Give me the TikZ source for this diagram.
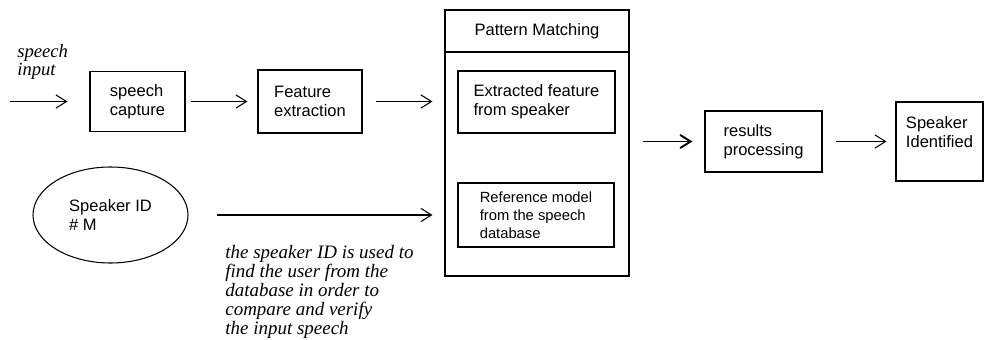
\documentclass[tikz,border=0pt]{standalone}
\usepackage{fontspec}
\setmainfont{Liberation Serif}
\setsansfont{Liberation Sans}
\usetikzlibrary{arrows.meta,shapes.geometric,calc,positioning}

\begin{document}
\begin{tikzpicture}[
    >={Straight Barb[length=6pt,width=7.5pt]},
    block/.style={draw, line width=0.6pt, align=left, inner sep=0pt, font=\sffamily\fontsize{9.4}{11}\selectfont},
    small/.style={font=\sffamily\fontsize{8.4}{10.2}\selectfont},
    remark/.style={align=left, inner sep=0pt, font=\itshape\fontsize{10.8}{10.8}\selectfont},
    flow/.style={->, line width=0.6pt, shorten <=0.26cm, shorten >=0.24cm}
]
    \useasboundingbox (0, 0) rectangle (19.7, 6.78);

    % Nodes
    \node[block, minimum width=1.9cm, minimum height=1.2cm] at (2.75, 4.75) (capture) {speech\\capture};
    \node[block, minimum width=2.08cm, minimum height=1.26cm] at (6.2, 4.75) (feature) {Feature\\extraction};
    \node[block, minimum width=3.68cm, minimum height=5.32cm] at (10.74, 3.92) (matching) {};
    \node[block, minimum width=3.68cm, minimum height=0.84cm, anchor=north] at (matching.north) (title) {Pattern Matching};
    \node[block, minimum width=3.14cm, minimum height=1.24cm] at (10.73, 4.74) (extracted) {Extracted feature\\from speaker};
    \node[block, small, minimum width=3.12cm, minimum height=1.28cm] at (10.72, 2.48) (reference) {Reference model\\from the speech\\database};
    \node[block, minimum width=2.34cm, minimum height=1.22cm] at (15.27, 3.95) (results) {results\\processing};
    \node[block, minimum width=1.74cm, minimum height=1.58cm] at (18.79, 3.95) (ident) {Speaker\\Identified\\~};
    \node[block, ellipse, minimum width=3.1cm, minimum height=1.92cm] at (2.21, 2.48) (speakerid) {Speaker ID\\\# M};

    \node[remark, font=\itshape\fontsize{10.6}{9.2}\selectfont, anchor=north west] at (0.34, 5.9) (inlabel) {speech\\input};
    \node[remark, anchor=north west] at (4.5, 1.88) (hint) {the speaker ID is used to\\find the user from the\\database in order to\\compare and verify\\the input speech};

    \coordinate (src) at (0.2, 4.75);

    % Arrows
    \draw[flow, shorten <=0pt, shorten >=0.44cm] (src) -- (capture);
    \draw[flow, shorten <=0.1cm, shorten >=0.2cm] (capture) -- (feature);
    \draw[flow] (feature) -- (feature -| matching.west);
    \draw[flow, line width=1.1pt] (matching.east |- results) -- (results);
    \draw[flow, shorten >=0.18cm] (results) -- (ident);
    \draw[flow, shorten <=0.56cm] (speakerid) -- (speakerid -| matching.west);

\end{tikzpicture}
\end{document}
